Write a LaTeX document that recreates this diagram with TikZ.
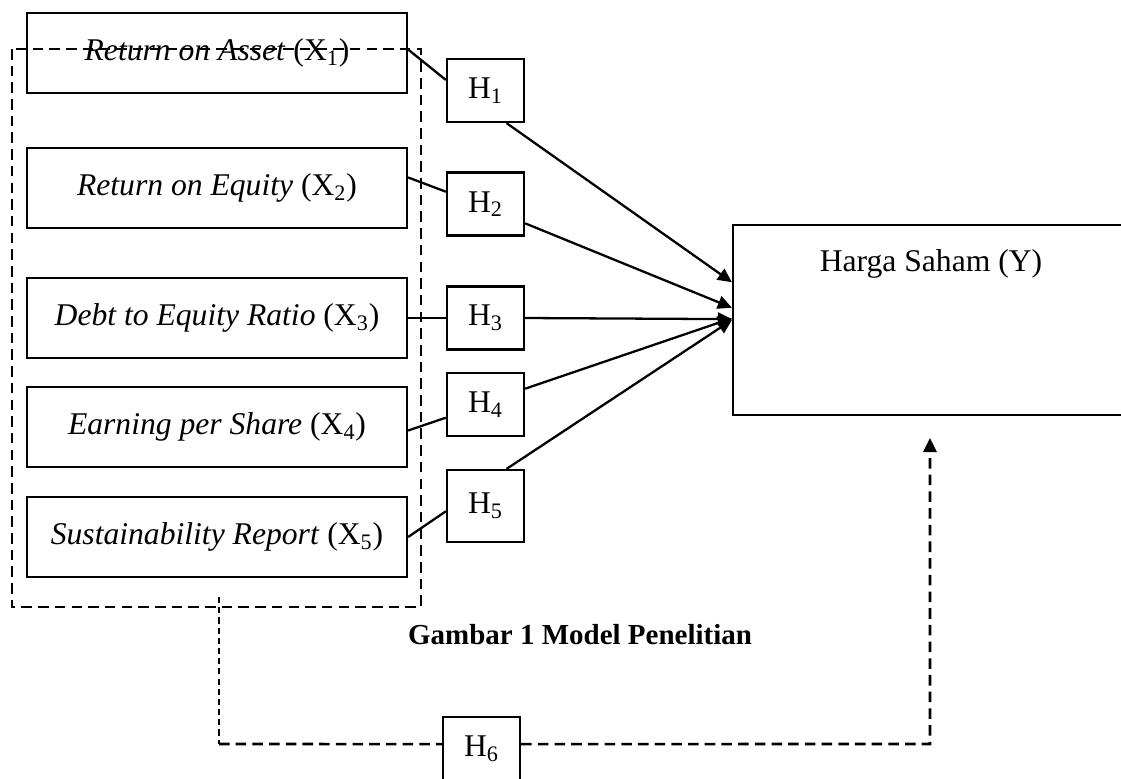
\documentclass[tikz,border=0pt]{standalone}
\usepackage{fontspec}
\setmainfont{Liberation Serif}
\usetikzlibrary{arrows.meta}

\begin{document}
\begin{tikzpicture}[x=0.02cm,y=-0.02cm,
        var/.style = {draw, line width=1.3pt, minimum width=7.6cm, minimum height=1.6cm, inner sep=0pt, font=\fontsize{18}{21}\selectfont},
        hyp/.style = {draw, line width=1.3pt, minimum width=1.54cm, minimum height=1.26cm, inner sep=0pt, font=\fontsize{18}{21}\selectfont},
        link/.style = {line width=1.3pt},
        arr/.style = {line width=1.3pt, -{Triangle[length=8pt,width=7.5pt]}},
        grp/.style = {line width=1.5pt, dash pattern=on 6pt off 3.5pt},
        thinlink/.style = {line width=0.6pt, dash pattern=on 3.5pt off 2.3pt}]
        \useasboundingbox (0,0) rectangle (1121,778);
        % variabel independen
        \node[var] (x1) at (217,53) {\textit{Return on Asset} (X\textsubscript{1})};
        \node[var] (x2) at (217,188) {\textit{Return on Equity} (X\textsubscript{2})};
        \node[var] (x3) at (217,318) {\textit{Debt to Equity Ratio} (X\textsubscript{3})};
        \node[var] (x4) at (217,427) {\textit{Earning per Share} (X\textsubscript{4})};
        \node[var] (x5) at (217,537) {\textit{Sustainability Report} (X\textsubscript{5})};
        % hipotesis
        \node[hyp] (h1) at (485.5,90.5) {H\textsubscript{1}};
        \node[hyp] (h2) at (485.5,204) {H\textsubscript{2}};
        \node[hyp] (h3) at (485.5,318) {H\textsubscript{3}};
        \node[hyp] (h4) at (485.5,404.5) {H\textsubscript{4}};
        \node[hyp, minimum height=1.44cm] (h5) at (485.5,506) {H\textsubscript{5}};
        \node[hyp] (h6) at (481.5,748.5) {H\textsubscript{6}};
        % variabel dependen
        \node[draw, line width=1.3pt, minimum width=7.92cm, minimum height=3.8cm] (y) at (931,320) {};
        \node[font=\fontsize{18}{21}\selectfont] (ylab) at (931,264) {Harga Saham (Y)};
        \node[font=\fontsize{16.5}{20}\selectfont\bfseries] (cap) at (580,635) {Gambar 1 Model Penelitian};
        % simultan
        \draw[grp] (12,49) rectangle (421,607);
        \coordinate (g) at (219,597);
        \coordinate (gc) at (219,744);
        \coordinate (tc) at (930,744);
        \coordinate (tip) at (930,438);
        \draw[link] ([yshift=2pt]x1.east) -- ([yshift=6pt]h1.west);
        \draw[link] ([yshift=6pt]x2.east) -- ([yshift=7pt]h2.west);
        \draw[link] (x3) -- (h3);
        \draw[link] ([yshift=-2pt]x4.east) -- ([yshift=-7.5pt]h4.west);
        \draw[link] (x5.east) -- ([yshift=-3pt]h5.west);
        \draw[arr] ([xshift=12pt]h1.south) -- ([yshift=21.5pt]y.west);
        \draw[arr] ([yshift=-11pt]h2.east) -- ([yshift=7pt]y.west);
        \draw[arr] (h3.east) -- ([yshift=0.5pt]y.west);
        \draw[arr] ([yshift=9pt]h4.east) -- ([yshift=1pt]y.west);
        \draw[arr] ([xshift=12pt]h5.north) -- (y.west);
        \draw[thinlink] (g) -- (gc);
        \draw[grp] (gc) -- ([yshift=2.5pt]h6.west);
        \draw[grp, -{Triangle[length=8pt,width=7.5pt]}] ([yshift=2.5pt]h6.east) -- (tc) -- (tip);
\end{tikzpicture}
\end{document}
